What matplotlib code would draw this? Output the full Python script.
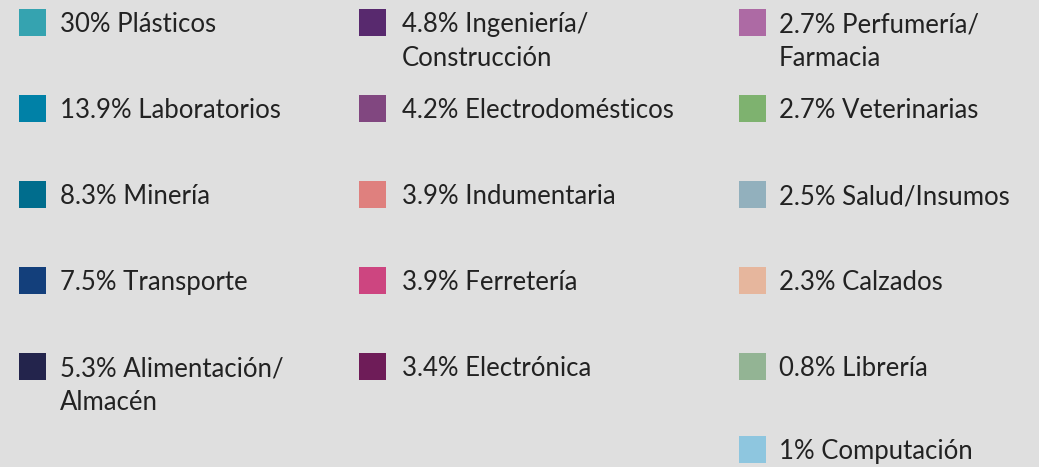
import matplotlib
matplotlib.use("Agg")
import matplotlib.pyplot as plt
from matplotlib.patches import Rectangle

# legend entries, column by column
pcts = ["30%", "13.9%", "8.3%", "7.5%", "5.3%",
        "4.8%", "4.2%", "3.9%", "3.9%", "3.4%",
        "2.7%", "2.7%", "2.5%", "2.3%", "0.8%", "1%"]
nombres = ["Plásticos", "Laboratorios", "Minería", "Transporte", "Alimentación/\nAlmacén",
           "Ingeniería/\nConstrucción", "Electrodomésticos", "Indumentaria", "Ferretería", "Electrónica",
           "Perfumería/\nFarmacia", "Veterinarias", "Salud/Insumos", "Calzados", "Librería", "Computación"]
colores = ["#35a3b0", "#0081a7", "#006d8d", "#133f7b", "#23244c",
           "#58296e", "#814780", "#df807e", "#cd4580", "#6e1c58",
           "#ad6aa4", "#7eb26f", "#92b0bd", "#e6b69d", "#93b494", "#8ec6df"]
columna = [0, 0, 0, 0, 0, 1, 1, 1, 1, 1, 2, 2, 2, 2, 2, 2]
fila = [0, 1, 2, 3, 4, 0, 1, 2, 3, 4, 0, 1, 2, 3, 4, 5]

BG = "#dfdfdf"
col_x = [19, 359, 739]     # left edge of swatch (px)
text_dx = [41, 43, 40]
row_y0, row_dy = 22.5, 86
sw = 27
line_h = 34

fig = plt.figure(figsize=(10.39, 4.67), dpi=100, facecolor=BG)
ax = fig.add_axes([0, 0, 1, 1])
ax.set_facecolor(BG)
ax.set_xlim(0, 1039)
ax.set_ylim(467, 0)
ax.axis("off")

for p, n, c, col, r in zip(pcts, nombres, colores, columna, fila):
    yc = row_y0 + r * row_dy
    if r == 5:
        yc -= 3
    x0 = col_x[col]
    ax.add_patch(Rectangle((x0, yc - sw / 2), sw, sw, color=c, lw=0))
    lineas = f"{p} {n}".split("\n")
    for i, t in enumerate(lineas):
        ax.text(x0 + text_dx[col], yc + 9.5 + i * line_h, t, ha="left", va="baseline",
                fontsize=18.5, family="Lato", color="#222222")

plt.savefig("out.png", dpi=100, facecolor=BG)
